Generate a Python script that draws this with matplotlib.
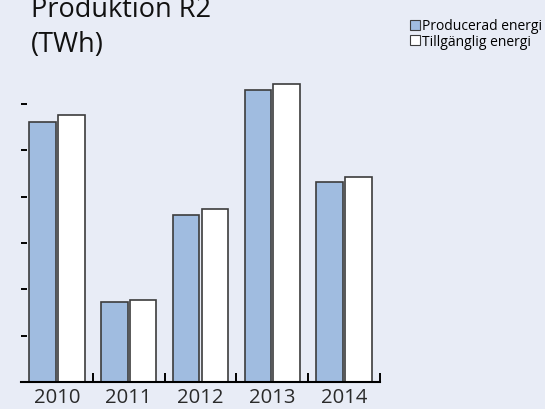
import numpy as np
import matplotlib
matplotlib.use("Agg")
import matplotlib.pyplot as plt
from matplotlib.patches import Patch

# ------------------ DATA ------------------ #
years = ["2010", "2011", "2012", "2013", "2014"]
producerad = [5.6, 1.72, 3.61, 6.3, 4.32]
tillganglig = [5.75, 1.77, 3.73, 6.42, 4.42]
series_labels = ["Producerad energi", "Tillgänglig energi"]
title_lines = ["Produktion R2", "(TWh)"]

# ------------------ STYLE ------------------ #
bg = "#e8ecf6"
blue = "#a0bce0"
edge = "#3c3c3c"
plt.rcParams["font.family"] = ["Open Sans", "DejaVu Sans"]

fig = plt.figure(figsize=(5.45, 4.1), dpi=100, facecolor=bg)
ax = fig.add_axes([21 / 545, (410 - 383.3) / 410, 359 / 545, 325 / 410])
ax.set_facecolor(bg)

x = np.arange(len(years))
w = 0.37
ax.bar(x - 0.2, producerad, w, color=blue, edgecolor=edge, linewidth=1.2)
ax.bar(x + 0.2, tillganglig, w, color="white", edgecolor=edge, linewidth=1.2)

ax.set_xlim(-0.5, len(years) - 0.5)
ax.set_ylim(0, 7)

# spines
for s in ["top", "right", "left"]:
    ax.spines[s].set_visible(False)
ax.spines["bottom"].set_linewidth(1.5)
ax.spines["bottom"].set_color("black")

# x: labels at centres, tick marks at category boundaries
ax.set_xticks(x)
ax.set_xticklabels(years, fontsize=14.6, color="#2a2a2a")
ax.tick_params(axis="x", which="major", length=0, pad=3.5)
ax.set_xticks(np.arange(0.5, len(years)), minor=True)
ax.tick_params(axis="x", which="minor", direction="in", length=6.5, width=1.4, color="black")

# y: tick marks only
ax.set_yticks(np.arange(0, 7))
ax.set_yticklabels([])
ax.tick_params(axis="y", direction="in", length=4.3, width=1.4, color="black")

# ------------------ TITLE ------------------ #
fig.text(31 / 545, (410 - 16.7) / 410, title_lines[0], fontsize=19.5, va="baseline", ha="left", color="#111111")
fig.text(31 / 545, (410 - 51.7) / 410, title_lines[1], fontsize=19.5, va="baseline", ha="left", color="#111111")

# ------------------ LEGEND ------------------ #
handles = [Patch(facecolor=blue, edgecolor=edge, linewidth=0.8),
           Patch(facecolor="white", edgecolor=edge, linewidth=0.8)]
fig.legend(handles, series_labels, loc="upper left", bbox_to_anchor=(410 / 545, (410 - 19.5) / 410),
           frameon=False, fontsize=10, handlelength=0.72, handleheight=0.72,
           handletextpad=0.12, labelspacing=0.0, borderpad=0, borderaxespad=0)

fig.savefig("out.png", dpi=100, facecolor=bg)
